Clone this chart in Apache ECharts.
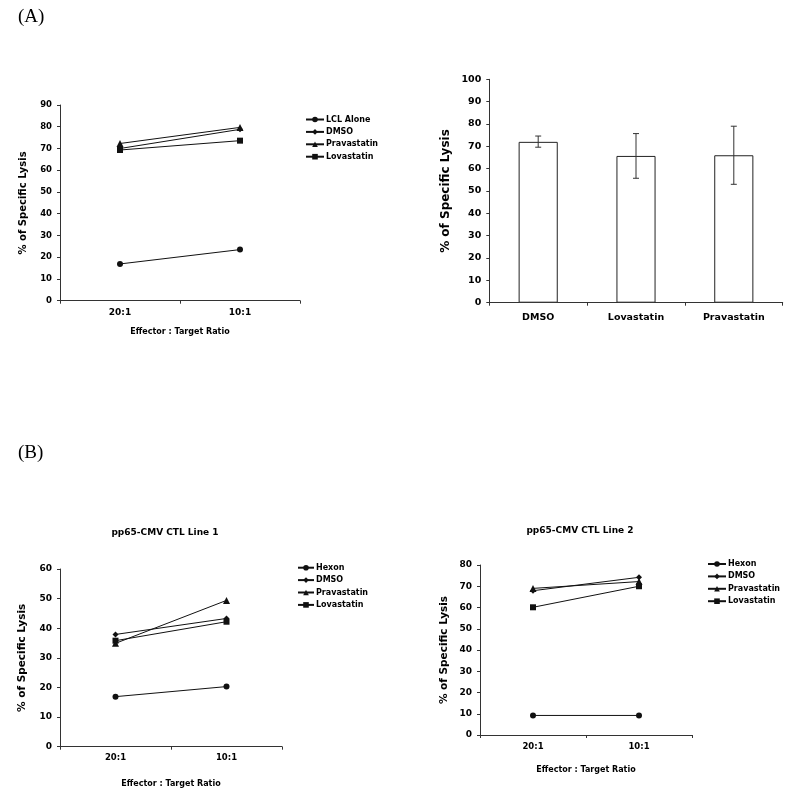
<!DOCTYPE html>
<html>
<head>
<meta charset="utf-8">
<script src="https://cdn.jsdelivr.net/npm/echarts@6/dist/echarts.min.js"></script>
<style>html,body{margin:0;padding:0;background:#fff;}#c{width:800px;height:796px;}</style>
</head>
<body>
<div id="c"></div>
<script>
// ---- data ----
const ratioCats = ['20:1', '10:1'];
// Panel A (left)
const lclAlone = [16.9, 23.5];
const dmsoA = [70.0, 78.8];
const pravaA = [72.3, 79.7];
const lovaA = [69.3, 73.6];
// Panel A (right) bar chart
const barCats = ['DMSO', 'Lovastatin', 'Pravastatin'];
const barMeans = [72.0, 65.7, 66.0];
const barLow = [69.6, 55.7, 53.0];
const barHigh = [74.6, 75.7, 79.0];
// Panel B (left) pp65-CMV CTL Line 1
const hexon1 = [16.9, 20.3];
const dmso1 = [37.9, 43.3];
const prava1 = [34.9, 49.4];
const lova1 = [35.8, 42.2];
// Panel B (right) pp65-CMV CTL Line 2
const hexon2 = [9.2, 9.2];
const dmso2 = [67.9, 74.2];
const prava2 = [69.0, 72.2];
const lova2 = [60.1, 70.0];

const FONT = 'DejaVu Sans';
const AX = '#333';

function xCat(gi, nameGap, labelSize) {
  return {
    type: 'category', gridIndex: gi, data: ratioCats, boundaryGap: true,
    axisLine: {lineStyle: {color: AX, width: 1}},
    axisTick: {show: true, length: 3, alignWithLabel: false, lineStyle: {color: AX}},
    axisLabel: {fontFamily: FONT, fontWeight: 'bold', fontSize: labelSize, color: '#000', margin: 7},
    name: 'Effector : Target Ratio', nameLocation: 'middle', nameGap: nameGap,
    nameTextStyle: {fontFamily: FONT, fontWeight: 'bold', fontSize: 8, color: '#000'}
  };
}
function yVal(gi, max, nameGap, nameSize, labelSize) {
  return {
    type: 'value', gridIndex: gi, min: 0, max: max, interval: 10,
    axisLine: {show: true, lineStyle: {color: AX, width: 1}},
    axisTick: {show: true, length: 3, lineStyle: {color: AX}},
    splitLine: {show: false},
    axisLabel: {fontFamily: FONT, fontWeight: 'bold', fontSize: labelSize, color: '#000', margin: 8},
    name: '% of Specific Lysis', nameLocation: 'middle', nameGap: nameGap, nameRotate: 90,
    nameTextStyle: {fontFamily: FONT, fontWeight: 'bold', fontSize: nameSize, color: '#000'}
  };
}
function lineS(name, data, gi, symbol, size) {
  return {
    type: 'line', name: name, data: data, xAxisIndex: gi, yAxisIndex: gi,
    symbol: symbol, symbolSize: size, showSymbol: true,
    lineStyle: {color: '#111', width: 1}, itemStyle: {color: '#111'},
    emphasis: {disabled: true}, animation: false
  };
}
function legendAt(left, top, names, w) {
  return {
    orient: 'vertical', left: left, top: top, data: names, selectedMode: false,
    itemWidth: w, itemHeight: 7, itemGap: 4.4, padding: 0,
    textStyle: {fontFamily: FONT, fontWeight: 'bold', fontSize: 8, color: '#000', padding: [0,0,0,-3]}
  };
}

const option = {
  backgroundColor: '#fff',
  animation: false,
  title: [
    {text: '(A)', left: 13, top: 3, textStyle: {fontFamily: 'Liberation Serif', fontWeight: 'normal', fontSize: 19, color: '#000'}},
    {text: '(B)', left: 13, top: 439, textStyle: {fontFamily: 'Liberation Serif', fontWeight: 'normal', fontSize: 19, color: '#000'}},
    {text: 'pp65-CMV CTL Line 1', left: 160, top: 523, textAlign: 'center', textStyle: {fontFamily: FONT, fontWeight: 'bold', fontSize: 9, color: '#000'}},
    {text: 'pp65-CMV CTL Line 2', left: 575, top: 521, textAlign: 'center', textStyle: {fontFamily: FONT, fontWeight: 'bold', fontSize: 9, color: '#000'}}
  ],
  legend: [
    legendAt(305, 115.5, ['LCL Alone', 'DMSO', 'Pravastatin', 'Lovastatin'], 18),
    legendAt(297, 563.7, ['Hexon', 'DMSO', 'Pravastatin', 'Lovastatin'], 16),
    legendAt(707, 560, ['Hexon', 'DMSO', 'Pravastatin', 'Lovastatin'], 18)
  ],
  grid: [
    {left: 60, top: 105, width: 240, height: 195.7},
    {left: 489.3, top: 79.3, width: 293.4, height: 223.4},
    {left: 60, top: 569, width: 222, height: 177.7},
    {left: 480, top: 565, width: 212, height: 170}
  ],
  xAxis: [
    xCat(0, 27, 9),
    {
      type: 'category', gridIndex: 1, data: barCats, boundaryGap: true,
      axisLine: {lineStyle: {color: AX, width: 1}},
      axisTick: {show: true, length: 3, lineStyle: {color: AX}},
      axisLabel: {fontFamily: FONT, fontWeight: 'bold', fontSize: 9.5, color: '#000', margin: 10}
    },
    xCat(2, 33, 8.5),
    xCat(3, 31, 8.5)
  ],
  yAxis: [
    yVal(0, 90, 32, 10, 8.5),
    yVal(1, 100, 37, 12, 9.5),
    yVal(2, 60, 32, 10.5, 9),
    yVal(3, 80, 30, 10.5, 9)
  ],
  series: [
    lineS('LCL Alone', lclAlone, 0, 'circle', 6),
    lineS('DMSO', dmsoA, 0, 'diamond', 6),
    lineS('Pravastatin', pravaA, 0, 'triangle', 7),
    lineS('Lovastatin', lovaA, 0, 'rect', 6),
    {
      type: 'bar', name: 'Mean lysis', data: barMeans, xAxisIndex: 1, yAxisIndex: 1,
      barWidth: '40%', itemStyle: {color: '#fff', borderColor: '#222', borderWidth: 1},
      emphasis: {disabled: true}
    },
    {
      type: 'custom', name: 'SD', xAxisIndex: 1, yAxisIndex: 1, z: 5,
      data: barCats.map((c, i) => [i, barLow[i], barHigh[i]]),
      renderItem: function (params, api) {
        const lo = api.coord([api.value(0), api.value(1)]);
        const hi = api.coord([api.value(0), api.value(2)]);
        const hw = 3;
        const st = {stroke: '#333', lineWidth: 1};
        return {type: 'group', children: [
          {type: 'line', shape: {x1: lo[0], y1: lo[1], x2: hi[0], y2: hi[1]}, style: st},
          {type: 'line', shape: {x1: lo[0] - hw, y1: lo[1], x2: lo[0] + hw, y2: lo[1]}, style: st},
          {type: 'line', shape: {x1: hi[0] - hw, y1: hi[1], x2: hi[0] + hw, y2: hi[1]}, style: st}
        ]};
      }
    },
    lineS('Hexon', hexon1, 2, 'circle', 6),
    lineS('DMSO', dmso1, 2, 'diamond', 6),
    lineS('Pravastatin', prava1, 2, 'triangle', 7),
    lineS('Lovastatin', lova1, 2, 'rect', 6),
    lineS('Hexon', hexon2, 3, 'circle', 6),
    lineS('DMSO', dmso2, 3, 'diamond', 6),
    lineS('Pravastatin', prava2, 3, 'triangle', 7),
    lineS('Lovastatin', lova2, 3, 'rect', 6)
  ]
};
const chart = echarts.init(document.getElementById('c'), null, {renderer: 'canvas'});
chart.setOption(option);
</script>
</body>
</html>
